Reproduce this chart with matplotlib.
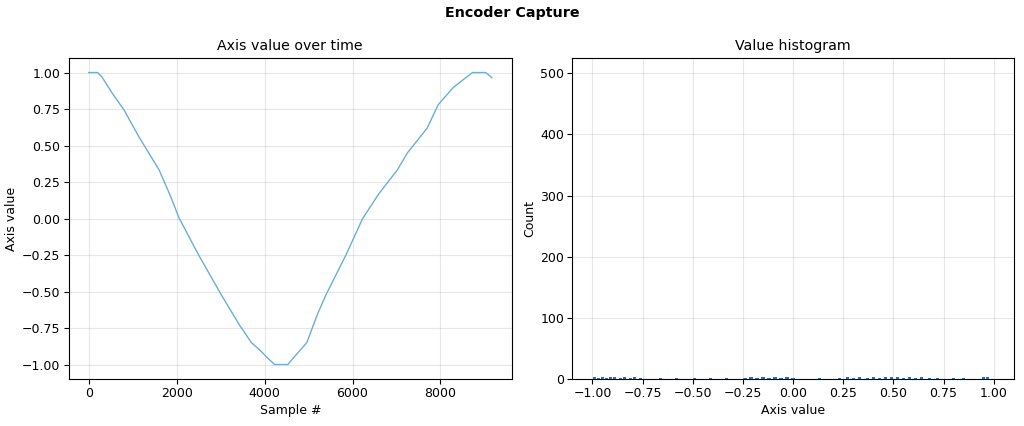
"""Encoder capture: axis value trace and value histogram."""
import matplotlib
matplotlib.use("Agg")
import matplotlib.pyplot as plt

# trace knots (sample index, axis value)
sample_idx = [0, 200, 300, 530, 800, 1140, 1600, 1850, 2060, 2500, 3010,
              3430, 3700, 3890, 4050, 4230, 4530, 4640, 4960, 5210, 5400,
              5850, 6230, 6600, 7020, 7250, 7700, 7950, 8300, 8730, 9030,
              9170]
axis_value = [1.0, 1.0, 0.97, 0.86, 0.745, 0.56, 0.333, 0.16, 0.0, -0.25,
              -0.52, -0.73, -0.85, -0.90, -0.95, -1.0, -1.0, -0.96, -0.85,
              -0.65, -0.52, -0.25, 0.0, 0.17, 0.333, 0.45, 0.62, 0.78, 0.90,
              1.0, 1.0, 0.965]

# histogram: saturated bins at the ends, sparse low counts elsewhere
end_bins = [-0.9995, 0.9995]
end_counts = [300, 500]
small_bins = [-0.99, -0.97, -0.95, -0.93, -0.91, -0.89, -0.86, -0.84, -0.81,
              -0.79, -0.76, -0.70, -0.66, -0.62, -0.58, -0.55, -0.49, -0.45,
              -0.41, -0.37, -0.33, -0.29, -0.24, -0.21, -0.18, -0.15, -0.12,
              -0.09, -0.06, -0.03, 0.00, 0.04, 0.09, 0.13, 0.19, 0.23, 0.27,
              0.30, 0.33, 0.37, 0.40, 0.43, 0.46, 0.49, 0.52, 0.55, 0.58,
              0.61, 0.64, 0.68, 0.72, 0.76, 0.80, 0.85, 0.90, 0.95, 0.97]
small_counts = [3, 2, 3, 2, 3, 4, 2, 3, 2, 3, 2, 1, 2, 1, 2, 1, 2, 1,
                2, 1, 2, 1, 2, 3, 2, 3, 2, 3, 2, 3, 2, 1, 1, 2, 1, 2, 3,
                2, 3, 2, 3, 2, 3, 4, 3, 2, 3, 2, 3, 2, 2, 1, 2, 2, 1, 3, 4]

plt.rcParams["font.size"] = 9
plt.rcParams["xtick.major.pad"] = 2.5
plt.rcParams["ytick.major.pad"] = 2.5
plt.rcParams["axes.labelpad"] = 2.5

fig = plt.figure(figsize=(10.24, 4.26), dpi=100)
fig.suptitle("Encoder Capture", fontweight="bold", fontsize=10.3, y=0.985)

ax1 = fig.add_axes([0.067, 0.110, 0.433, 0.754])
ax1.plot(sample_idx, axis_value, color="#6baed6", lw=1.0)
ax1.set_title("Axis value over time", fontsize=10.2)
ax1.set_xlabel("Sample #")
ax1.set_ylabel("Axis value")
ax1.grid(True, alpha=0.3)

ax2 = fig.add_axes([0.559, 0.110, 0.431, 0.754])
ax2.bar(end_bins, end_counts, width=0.0005, color="#1f77b4", alpha=0.15)
ax2.bar(small_bins, small_counts, width=0.016, color="#1f77b4")
ax2.set_xlim(-1.1, 1.1)
ax2.set_ylim(0, 525)
ax2.set_xticks([-1.0, -0.75, -0.5, -0.25, 0.0, 0.25, 0.5, 0.75, 1.0])
ax2.set_title("Value histogram", fontsize=10.2)
ax2.set_xlabel("Axis value")
ax2.set_ylabel("Count")
ax2.grid(True, alpha=0.3)

fig.savefig("out.png", dpi=100)
